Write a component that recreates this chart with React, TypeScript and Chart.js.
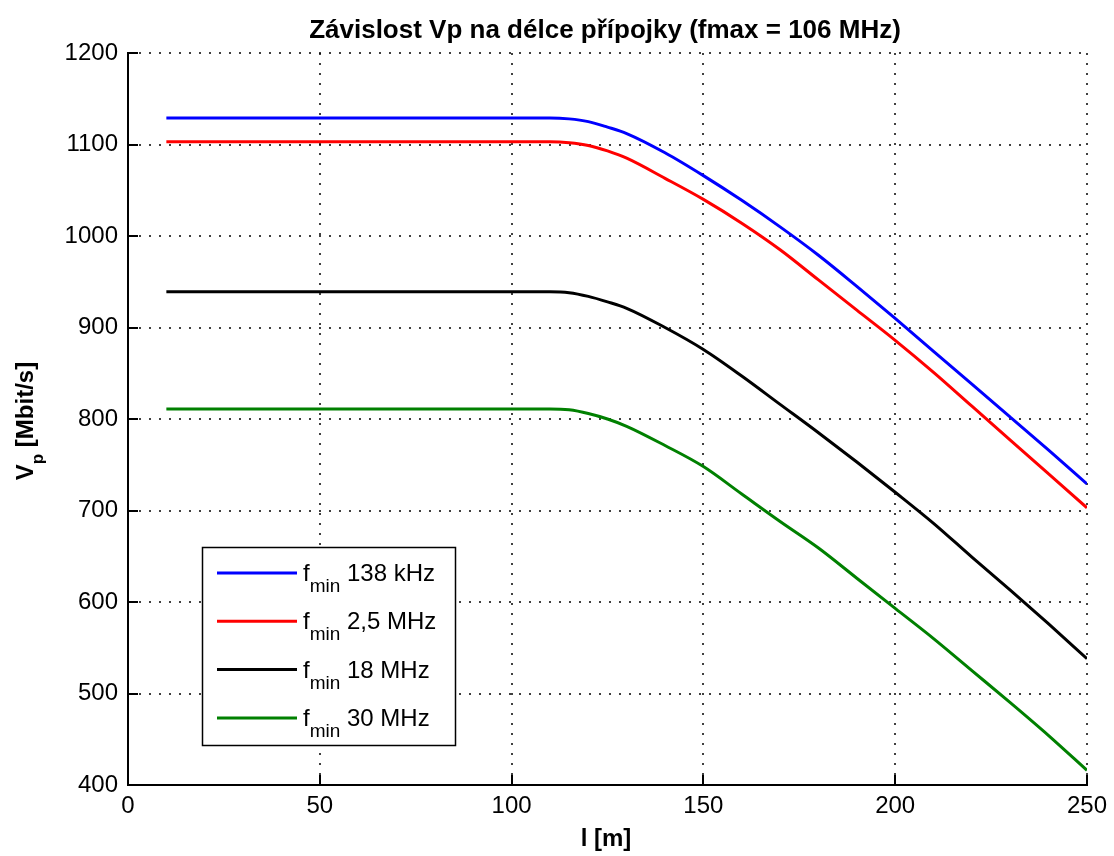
import React, { useEffect, useRef } from "react";
import { Chart, registerables } from "chart.js";

Chart.register(...registerables);

const FONT = '"Liberation Sans", Arial, Helvetica, sans-serif';

const lengths = [10, 20, 30, 40, 50, 60, 70, 80, 90, 100, 110, 115, 120, 125, 130, 140, 150, 160, 170, 180, 190, 200, 210, 220, 230, 240, 250];
const vp138k = [1129, 1129, 1129, 1129, 1129, 1129, 1129, 1129, 1129, 1129, 1129, 1128, 1125, 1119, 1112, 1091, 1066, 1039, 1010, 979, 945, 910, 874, 838, 802, 766, 729];
const vp2_5M = [1103, 1103, 1103, 1103, 1103, 1103, 1103, 1103, 1103, 1103, 1103, 1102, 1099, 1093, 1085, 1063, 1040, 1014, 985, 952, 919, 886, 851, 814, 777, 740, 703];
const vp18M = [939, 939, 939, 939, 939, 939, 939, 939, 939, 939, 939, 938, 934, 928, 921, 900, 876, 847, 816, 785, 753, 720, 686, 649, 613, 576, 538];
const vp30M = [811, 811, 811, 811, 811, 811, 811, 811, 811, 811, 811, 810, 806, 800, 792, 771, 748, 718, 688, 659, 626, 593, 560, 525, 490, 454, 416];

const seriesValues = [vp138k, vp2_5M, vp18M, vp30M];
const seriesColors = ["#0000ff", "#ff0000", "#000000", "#008000"];
const legendPrefix = "f";
const legendSub = "min";
const legendLabels = ["138 kHz", "2,5 MHz", "18 MHz", "30 MHz"];

const titleText = "Závislost Vp na délce přípojky (fmax = 106 MHz)";
const xTitle = "l [m]";
const yTitleMain = "V";
const yTitleSub = "p";
const yTitleRest = " [Mbit/s]";

const xMin = 0, xMax = 250, xStep = 50;
const yMin = 400, yMax = 1200, yStep = 100;

export default function App() {
  const ref = useRef<HTMLCanvasElement>(null);

  useEffect(() => {
    const canvas = ref.current;
    if (!canvas) return;

    const overlay = {
      id: "overlay",
      afterDraw(chart: any) {
        const ctx = chart.ctx as CanvasRenderingContext2D;
        const area = chart.chartArea;
        const xs = chart.scales.x;
        const ys = chart.scales.y;
        ctx.save();

        // inward ticks
        ctx.strokeStyle = "#000";
        ctx.lineWidth = 2;
        ctx.beginPath();
        xs.ticks.forEach((t: any) => {
          const px = Math.round(xs.getPixelForValue(t.value));
          ctx.moveTo(px, area.bottom);
          ctx.lineTo(px, area.bottom - 10);
        });
        ys.ticks.forEach((t: any) => {
          const py = Math.round(ys.getPixelForValue(t.value));
          ctx.moveTo(area.left, py);
          ctx.lineTo(area.left + 10, py);
        });
        ctx.stroke();

        // title
        ctx.fillStyle = "#000";
        ctx.textAlign = "center";
        ctx.textBaseline = "alphabetic";
        ctx.font = `bold 26px ${FONT}`;
        ctx.fillText(titleText, 605, 38);

        // x title
        ctx.font = `bold 24px ${FONT}`;
        ctx.fillText(xTitle, 606, 846);

        // y title (rotated, with subscript)
        ctx.save();
        ctx.translate(33, 421);
        ctx.rotate(-Math.PI / 2);
        ctx.textAlign = "left";
        ctx.font = `bold 24px ${FONT}`;
        const wV = ctx.measureText(yTitleMain).width;
        const wRest = ctx.measureText(yTitleRest).width;
        ctx.font = `bold 17px ${FONT}`;
        const wSub = ctx.measureText(yTitleSub).width;
        const total = wV + wSub + wRest;
        let cx = -total / 2;
        ctx.font = `bold 24px ${FONT}`;
        ctx.fillText(yTitleMain, cx, 0);
        cx += wV;
        ctx.font = `bold 17px ${FONT}`;
        ctx.fillText(yTitleSub, cx, 10);
        cx += wSub;
        ctx.font = `bold 24px ${FONT}`;
        ctx.fillText(yTitleRest, cx, 0);
        ctx.restore();

        // legend
        const lx = 202, ly = 547, lw = 253, lh = 198;
        ctx.fillStyle = "#fff";
        ctx.fillRect(lx, ly, lw, lh);
        ctx.strokeStyle = "#000";
        ctx.lineWidth = 1.5;
        ctx.strokeRect(lx + 0.5, ly + 0.5, lw, lh);
        legendLabels.forEach((lab, i) => {
          const yy = 573 + i * 48.3;
          ctx.strokeStyle = seriesColors[i];
          ctx.lineWidth = 3;
          ctx.beginPath();
          ctx.moveTo(217, yy);
          ctx.lineTo(297, yy);
          ctx.stroke();
          ctx.fillStyle = "#000";
          ctx.textAlign = "left";
          ctx.font = `24px ${FONT}`;
          ctx.fillText(legendPrefix, 303, yy + 8);
          const wf = ctx.measureText(legendPrefix).width;
          ctx.font = `19px ${FONT}`;
          ctx.fillText(legendSub, 303 + wf, yy + 19);
          const ws = ctx.measureText(legendSub).width;
          ctx.font = `24px ${FONT}`;
          ctx.fillText(" " + lab, 303 + wf + ws, yy + 8);
        });

        ctx.restore();
      },
    };

    const chart = new Chart(canvas, {
      type: "line",
      data: {
        datasets: seriesValues.map((vals, i) => ({
          label: legendLabels[i],
          data: lengths.map((x, j) => ({ x, y: vals[j] })),
          borderColor: seriesColors[i],
          backgroundColor: seriesColors[i],
          borderWidth: 3,
          pointRadius: 0,
          fill: false,
          cubicInterpolationMode: "monotone" as const,
        })),
      },
      options: {
        responsive: false,
        animation: false,
        events: [],
        layout: { padding: { top: 53, right: 23, left: 0, bottom: 0 } },
        plugins: {
          legend: { display: false },
          title: { display: false },
          tooltip: { enabled: false },
        },
        scales: {
          x: {
            type: "linear",
            min: xMin,
            max: xMax,
            ticks: {
              stepSize: xStep,
              color: "#000",
              padding: 7,
              maxRotation: 0,
              font: { family: FONT, size: 24 },
              callback: (v: any) => String(v),
            },
            grid: { color: "rgba(0,0,0,0.75)", lineWidth: 2, drawTicks: false },
            border: { display: true, color: "#000", width: 2, dash: [2, 8] },
            afterFit: (s: any) => { s.height = 71; },
          },
          y: {
            type: "linear",
            min: yMin,
            max: yMax,
            ticks: {
              stepSize: yStep,
              color: "#000",
              padding: 10,
              font: { family: FONT, size: 24 },
              callback: (v: any) => String(v),
            },
            grid: { color: "rgba(0,0,0,0.75)", lineWidth: 2, drawTicks: false },
            border: { display: true, color: "#000", width: 2, dash: [2, 8] },
            afterFit: (s: any) => { s.width = 128; },
          },
        },
      },
      plugins: [overlay],
    });

    return () => chart.destroy();
  }, []);

  return (
    <div style={{ position: "absolute", left: 0, top: 0, width: 1114, height: 856, background: "#fff" }}>
      <canvas ref={ref} width={1114} height={856} style={{ display: "block" }} />
    </div>
  );
}
